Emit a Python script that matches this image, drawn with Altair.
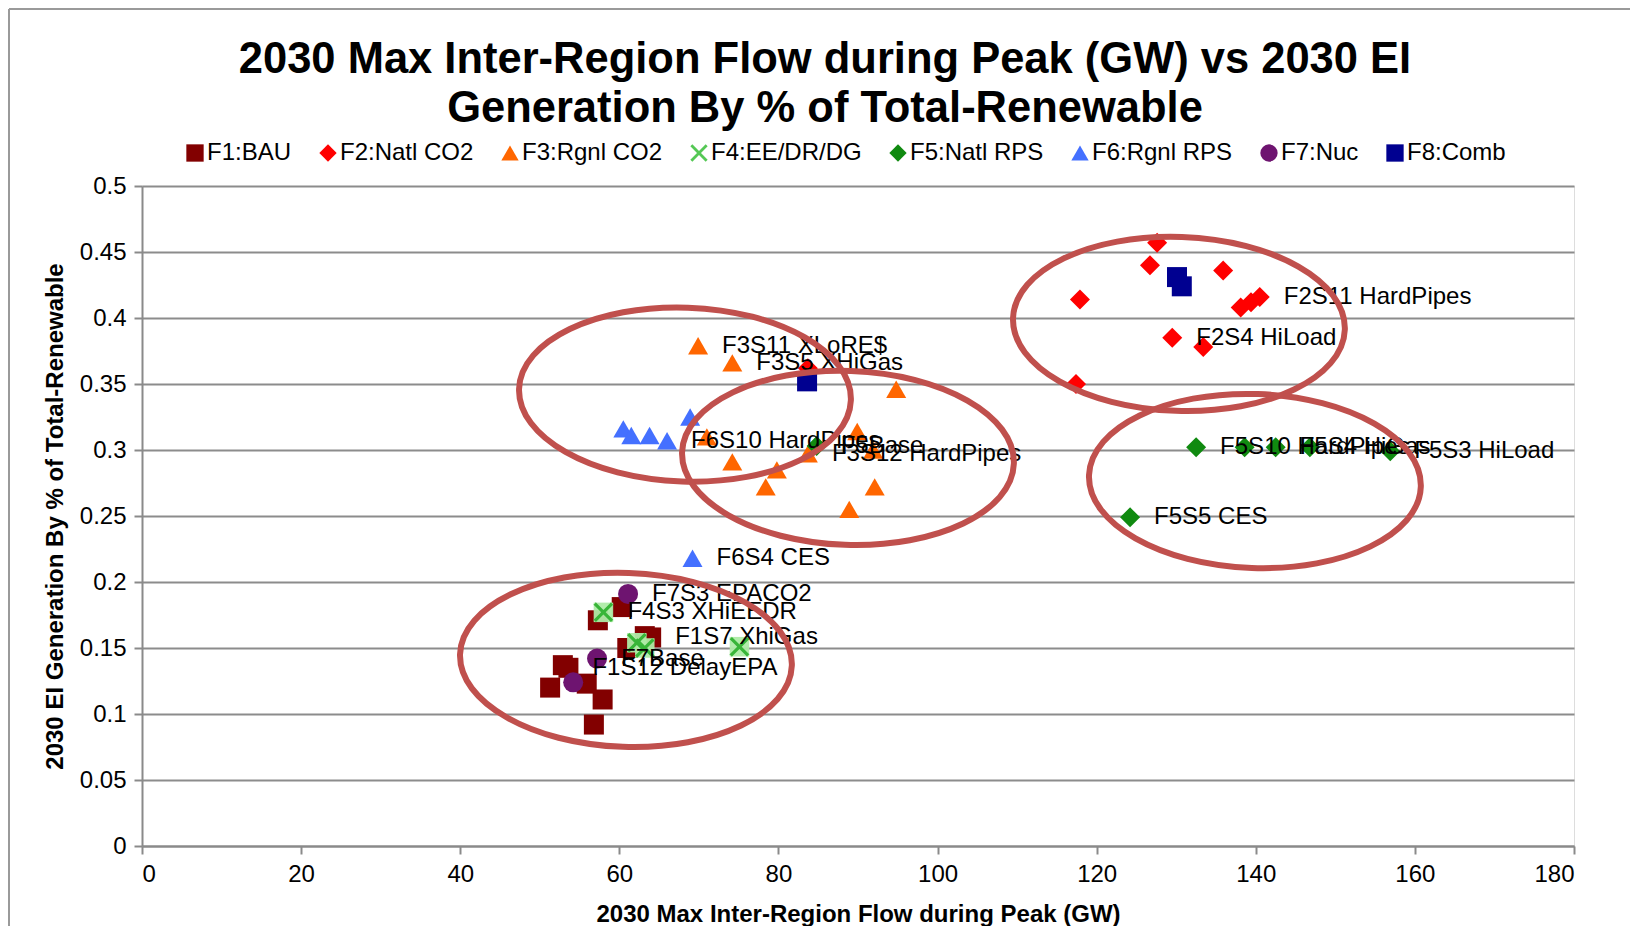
import math
import altair as alt
import pandas as pd

# ---------------- data ----------------
series_names = ["F1:BAU", "F2:Natl CO2", "F3:Rgnl CO2", "F4:EE/DR/DG",
                "F5:Natl RPS", "F6:Rgnl RPS", "F7:Nuc", "F8:Comb"]

f1_x = [57.3, 60.3, 63.2, 64.0, 61.0, 52.9, 53.6, 51.3, 55.9, 57.9, 56.8]
f1_y = [0.171, 0.181, 0.159, 0.158, 0.150, 0.137, 0.135, 0.120, 0.123, 0.111, 0.092]
f1_lab = ["", "", "", "F1S7 XhiGas", "", "", "F1S12 DelayEPA", "", "", "", ""]

f2_x = [127.6, 126.7, 135.9, 117.9, 138.1, 139.4, 140.5, 129.5, 133.4, 117.4, 83.7]
f2_y = [0.457, 0.440, 0.436, 0.414, 0.408, 0.412, 0.416, 0.385, 0.378, 0.350, 0.362]
f2_lab = ["", "", "", "", "", "", "F2S11 HardPipes", "F2S4 HiLoad", "", "", ""]

f3_x = [69.9, 74.2, 94.8, 71.0, 74.2, 79.8, 78.4, 83.7, 89.9, 91.9, 92.1, 88.9]
f3_y = [0.379, 0.366, 0.346, 0.310, 0.291, 0.285, 0.272, 0.297, 0.314, 0.300, 0.272, 0.255]
f3_lab = ["F3S11 XLoRE$", "F3S5 XHiGas", "", "", "", "", "", "F3S12 HardPipes", "", "", "", ""]

f4_x = [58.0, 62.2, 63.2, 75.1]
f4_y = [0.177, 0.154, 0.150, 0.151]
f4_lab = ["F4S3 XHiEEDR", "", "", ""]

f5_x = [132.5, 138.6, 142.5, 146.8, 156.9, 124.2, 84.8]
f5_y = [0.302, 0.302, 0.302, 0.302, 0.299, 0.249, 0.303]
f5_lab = ["F5S10 HardPipes", "", "F5S4 HiGas", "", "F5S3 HiLoad", "F5S5 CES", "F5Base"]

f6_x = [60.5, 61.5, 63.8, 66.0, 68.9, 69.2]
f6_y = [0.316, 0.311, 0.311, 0.307, 0.325, 0.218]
f6_lab = ["", "", "", "F6S10 HardPipes", "", "F6S4 CES"]

f7_x = [61.1, 57.2, 54.2]
f7_y = [0.191, 0.142, 0.124]
f7_lab = ["F7S3 EPACO2", "F7Base", ""]

f8_x = [83.6, 130.1, 130.7]
f8_y = [0.352, 0.431, 0.424]
f8_lab = ["", "", ""]

# annotation ellipses (centres in data units)
ell_x = [68.25, 88.74, 130.34, 139.89, 60.83]
ell_y = [0.342, 0.294, 0.3955, 0.2765, 0.141]

x_ticks = [0, 20, 40, 60, 80, 100, 120, 140, 160, 180]
y_ticks = [0, 0.05, 0.1, 0.15, 0.2, 0.25, 0.3, 0.35, 0.4, 0.45, 0.5]

title_line1 = "2030 Max Inter-Region Flow during Peak (GW) vs 2030 EI"
title_line2 = "Generation By % of Total-Renewable"
x_title = "2030 Max Inter-Region Flow during Peak (GW)"
y_title = "2030 EI Generation By % of Total-Renewable"

# ---------------- styles ----------------
series_colors = ["#820000", "#FF0000", "#FF6600", "#55C855",
                 "#108A10", "#4470FF", "#6E1470", "#000090"]


def x_shape(w=0.13):
    pts = [(-w, -1), (w, -1), (w, -w), (1, -w), (1, w), (w, w), (w, 1),
           (-w, 1), (-w, w), (-1, w), (-1, -w), (-w, -w)]
    s = 1 / ((1 + w) / math.sqrt(2))
    out = []
    for px, py in pts:
        rx = (px - py) / math.sqrt(2) * s
        ry = (px + py) / math.sqrt(2) * s
        out.append(f"{rx:.3f},{ry:.3f}")
    return "M" + " L".join(out) + " Z"


def ellipse_shape(r=0.524):
    k = 0.5523
    return (f"M-1,0 C-1,{-k*r:.4f} {-k:.4f},{-r:.4f} 0,{-r:.4f} "
            f"C{k:.4f},{-r:.4f} 1,{-k*r:.4f} 1,0 "
            f"C1,{k*r:.4f} {k:.4f},{r:.4f} 0,{r:.4f} "
            f"C{-k:.4f},{r:.4f} -1,{k*r:.4f} -1,0 Z")


X_PATH = x_shape()
series_shapes = ["square", "diamond", "triangle-up", X_PATH,
                 "diamond", "triangle-up", "circle", "square"]

FONT = "Liberation Sans"

# ---------------- tables ----------------
rows = []
for name, xs, ys, labs in zip(
        series_names,
        [f1_x, f2_x, f3_x, f4_x, f5_x, f6_x, f7_x, f8_x],
        [f1_y, f2_y, f3_y, f4_y, f5_y, f6_y, f7_y, f8_y],
        [f1_lab, f2_lab, f3_lab, f4_lab, f5_lab, f6_lab, f7_lab, f8_lab]):
    for xv, yv, lb in zip(xs, ys, labs):
        rows.append({"x": xv, "y": yv, "series": name, "label": lb})
df = pd.DataFrame(rows)
df_f4 = df[df["series"] == "F4:EE/DR/DG"]
df_lab = df[df["label"] != ""]
df_ell = pd.DataFrame({"x": ell_x, "y": ell_y})

xscale = alt.Scale(domain=[0, 180], nice=False, zero=False)
yscale = alt.Scale(domain=[0, 0.5], nice=False, zero=False)

x_enc = alt.X("x:Q", scale=xscale, title=x_title,
              axis=alt.Axis(values=x_ticks, grid=False, labelFontSize=24,
                            labelFont=FONT, labelColor="#000000",
                            tickSize=8, tickColor="#8A8A8A", tickWidth=2,
                            domainColor="#8A8A8A", domainWidth=2,
                            labelPadding=8, titlePadding=16,
                            titleFontSize=24, titleFont=FONT,
                            titleFontWeight="bold", titleColor="#000000"))
y_enc = alt.Y("y:Q", scale=yscale, title=y_title,
              axis=alt.Axis(values=y_ticks, format="~g", grid=True,
                            gridColor="#8C8C8C", gridWidth=2,
                            labelFontSize=24, labelFont=FONT,
                            labelColor="#000000",
                            tickSize=8, tickColor="#8A8A8A", tickWidth=2,
                            domainColor="#8A8A8A", domainWidth=2,
                            labelPadding=8, titlePadding=12,
                            titleFontSize=24, titleFont=FONT,
                            titleFontWeight="bold", titleColor="#000000"))

legend = alt.Legend(orient="none", legendX=41, legendY=-45,
                    direction="horizontal", columns=8, title=None,
                    labelFontSize=24, labelFont=FONT, labelColor="#000000",
                    symbolSize=300, labelOffset=0, columnPadding=24,
                    padding=0, symbolStrokeWidth=0)

points = alt.Chart(df).mark_point(filled=True, size=400, opacity=1).encode(
    x=x_enc, y=y_enc,
    color=alt.Color("series:N", title=None,
                    scale=alt.Scale(domain=series_names, range=series_colors),
                    legend=legend),
    shape=alt.Shape("series:N", title=None,
                    scale=alt.Scale(domain=series_names, range=series_shapes),
                    legend=legend),
)

f4_bg = alt.Chart(df_f4).mark_point(shape="square", filled=True, size=380,
                                    color="#AEEBA6", opacity=0.95).encode(
    x="x:Q", y="y:Q")
f4_x = alt.Chart(df_f4).mark_point(shape=X_PATH, filled=True, size=380,
                                   color="#38B538", opacity=1).encode(
    x="x:Q", y="y:Q")

labels = alt.Chart(df_lab).mark_text(align="left", baseline="middle", dx=24,
                                     fontSize=24, font=FONT,
                                     color="#000000").encode(
    x="x:Q", y="y:Q", text="label:N")

ellipses = alt.Chart(df_ell).mark_point(shape=ellipse_shape(), filled=False,
                                        size=332 * 332, strokeWidth=6,
                                        color="#C0504D", opacity=1,
                                        angle=2).encode(x="x:Q", y="y:Q")

one_row = alt.Data(values=[{"k": 1}])
title1 = alt.Chart(one_row).mark_text(fontSize=43.5, font=FONT, fontWeight="bold",
                                      color="#000000", align="center",
                                      baseline="middle").encode(
    x=alt.value(683), y=alt.value(-126), text=alt.value(title_line1))
title2 = alt.Chart(one_row).mark_text(fontSize=43.5, font=FONT, fontWeight="bold",
                                      color="#000000", align="center",
                                      baseline="middle").encode(
    x=alt.value(683), y=alt.value(-77), text=alt.value(title_line2))

border_left = alt.Chart(one_row).mark_rule(color="#9A9A9A", strokeWidth=2).encode(
    x=alt.value(-133), y=alt.value(-177), y2=alt.value(760))
border_top = alt.Chart(one_row).mark_rule(color="#9A9A9A", strokeWidth=2).encode(
    x=alt.value(-133), x2=alt.value(1500), y=alt.value(-177))

chart = alt.layer(points, f4_bg, f4_x, labels, ellipses, title1, title2,
                  border_left, border_top).properties(
    width=1432, height=660,
    autosize=alt.AutoSizeParams(type="none"),
    padding={"left": 134, "top": 178, "right": 56, "bottom": 80},
).configure_view(strokeWidth=0).configure(font=FONT)

chart.save("out.html", embed_options={"renderer": "svg", "actions": False})
